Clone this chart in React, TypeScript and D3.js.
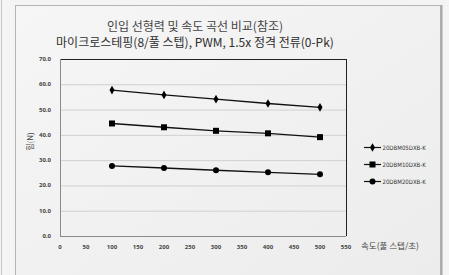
import { useEffect, useRef } from 'react'
import * as d3 from 'd3'

const speeds = [100, 200, 300, 400, 500]
const seriesNames = ['20DBM05DXB-K', '20DBM10DXB-K', '20DBM20DXB-K']
const force05 = [57.7, 55.8, 54.1, 52.4, 50.9]
const force10 = [44.5, 43.0, 41.6, 40.6, 39.1]
const force20 = [27.7, 26.9, 26.0, 25.2, 24.4]
const markerShapes = ['diamond', 'square', 'circle']
const xTicks = [0, 50, 100, 150, 200, 250, 300, 350, 400, 450, 500, 550]
const yTicks = [0, 10, 20, 30, 40, 50, 60, 70]

const titleLines = ['인입 선형력 및 속도 곡선 비교(참조)', '마이크로스테핑(8/풀 스텝), PWM, 1.5x 정격 전류(0-Pk)']
const xTitle = '속도(풀 스텝/초)'
const yTitle = '힘(N)'

const W = 449
const H = 275
const FONT = "'Noto Sans CJK KR', 'Noto Sans', sans-serif"
const NUM_FONT = "'Open Sans', 'Liberation Sans', sans-serif"
const LEG_FONT = "'Liberation Sans Narrow', 'DejaVu Sans Condensed', sans-serif"

function drawMarker(g: d3.Selection<SVGGElement, unknown, null, undefined>, shape: string, x: number, y: number) {
  if (shape === 'square') {
    g.append('rect').attr('x', x - 3).attr('y', y - 3).attr('width', 6).attr('height', 6).attr('fill', '#000')
  } else if (shape === 'circle') {
    g.append('circle').attr('cx', x).attr('cy', y).attr('r', 3).attr('fill', '#000')
  } else {
    const sym = d3.symbol(d3.symbolDiamond, 22)()
    g.append('path').attr('d', sym!).attr('transform', `translate(${x},${y})`).attr('fill', '#000')
  }
}

export default function App() {
  const svgRef = useRef<SVGSVGElement>(null)

  useEffect(() => {
    if (!svgRef.current) return
    const svg = d3.select(svgRef.current)
    svg.selectAll('*').remove()

    // page + frame
    svg.append('rect').attr('width', W).attr('height', H).attr('fill', '#f4f4f4')
    svg.append('line').attr('x1', 1.5).attr('x2', 1.5).attr('y1', 0).attr('y2', H).attr('stroke', '#c8c8c8')
    const grad = svg.append('defs').append('linearGradient').attr('id', 'bg').attr('x1', 0).attr('x2', 1).attr('y1', 0).attr('y2', 1)
    grad.append('stop').attr('offset', '0%').attr('stop-color', '#f6f6f6')
    grad.append('stop').attr('offset', '100%').attr('stop-color', '#ececec')
    svg.append('rect').attr('x', 15.5).attr('y', 5.5).attr('width', 425).attr('height', H).attr('fill', 'url(#bg)').attr('stroke', '#b4b4b4')
    svg.append('line').attr('x1', 441.5).attr('x2', 441.5).attr('y1', 5).attr('y2', H).attr('stroke', '#a8a8a8').attr('stroke-width', 2)

    // title
    titleLines.forEach((t, i) => {
      svg.append('text').attr('x', 195).attr('y', 31 + i * 15.5).attr('text-anchor', 'middle')
        .attr('font-family', FONT).attr('font-size', 12)
        .attr('fill', i === 1 ? '#2e2e2e' : '#444').text(t)
    })

    const x = d3.scaleLinear().domain([0, 550]).range([60, 346])
    const y = d3.scaleLinear().domain([0, 70]).range([236, 59])

    // gridlines
    svg.append('g').selectAll('line').data(yTicks.slice(1, -1)).join('line')
      .attr('x1', x(0)).attr('x2', x(550)).attr('y1', d => y(d) + 0.5).attr('y2', d => y(d) + 0.5)
      .attr('stroke', '#d0d0d0')

    // plot border
    svg.append('line').attr('x1', x(0)).attr('x2', x(550)).attr('y1', y(70) + 0.5).attr('y2', y(70) + 0.5).attr('stroke', '#222')
    svg.append('line').attr('x1', x(550) + 0.5).attr('x2', x(550) + 0.5).attr('y1', y(70)).attr('y2', y(0)).attr('stroke', '#222')
    svg.append('line').attr('x1', x(0) + 0.5).attr('x2', x(0) + 0.5).attr('y1', y(70)).attr('y2', y(0)).attr('stroke', '#8a8a8a')
    svg.append('line').attr('x1', x(0)).attr('x2', x(550)).attr('y1', y(0) + 0.5).attr('y2', y(0) + 0.5).attr('stroke', '#8a8a8a')

    // tick labels
    svg.append('g').selectAll('text').data(yTicks).join('text')
      .attr('x', 51).attr('y', d => y(d) + 2).attr('text-anchor', 'end')
      .attr('font-family', NUM_FONT).attr('font-size', 6).attr('font-weight', 700).attr('fill', '#444')
      .text(d => d.toFixed(1))
    svg.append('g').selectAll('text').data(xTicks).join('text')
      .attr('x', d => x(d)).attr('y', 249).attr('text-anchor', 'middle')
      .attr('font-family', NUM_FONT).attr('font-size', 6).attr('font-weight', 700).attr('fill', '#444')
      .text(d => String(d))

    // axis titles
    svg.append('text').attr('x', 361).attr('y', 249).attr('font-family', FONT).attr('font-size', 8.5)
      .attr('fill', '#444').text(xTitle)
    svg.append('text').attr('transform', `translate(33,141.5) rotate(-90)`).attr('text-anchor', 'middle')
      .attr('font-family', FONT).attr('font-size', 8).attr('fill', '#444').text(yTitle)

    // series
    const allSeries = [force05, force10, force20]
    const line = d3.line<number>().x((_, i) => x(speeds[i])).y(d => y(d))
    allSeries.forEach((vals, si) => {
      const g = svg.append('g')
      g.append('path').attr('d', line(vals)!).attr('fill', 'none').attr('stroke', '#111').attr('stroke-width', 1.3)
      vals.forEach((v, i) => drawMarker(g, markerShapes[si], x(speeds[i]), y(v)))
    })

    // legend
    seriesNames.forEach((name, i) => {
      const ly = 147.5 + i * 17
      const g = svg.append('g')
      g.append('line').attr('x1', 364).attr('x2', 381).attr('y1', ly).attr('y2', ly).attr('stroke', '#111').attr('stroke-width', 1.2)
      drawMarker(g, markerShapes[i], 372.5, ly)
      g.append('text').attr('x', 382.5).attr('y', ly + 2).attr('font-family', LEG_FONT).attr('font-size', 6)
        .attr('fill', '#333').text(name)
    })
  }, [])

  return (
    <div style={{ position: 'fixed', left: 0, top: 0 }}>
      <svg ref={svgRef} width={W} height={H} style={{ display: 'block' }} />
    </div>
  )
}
